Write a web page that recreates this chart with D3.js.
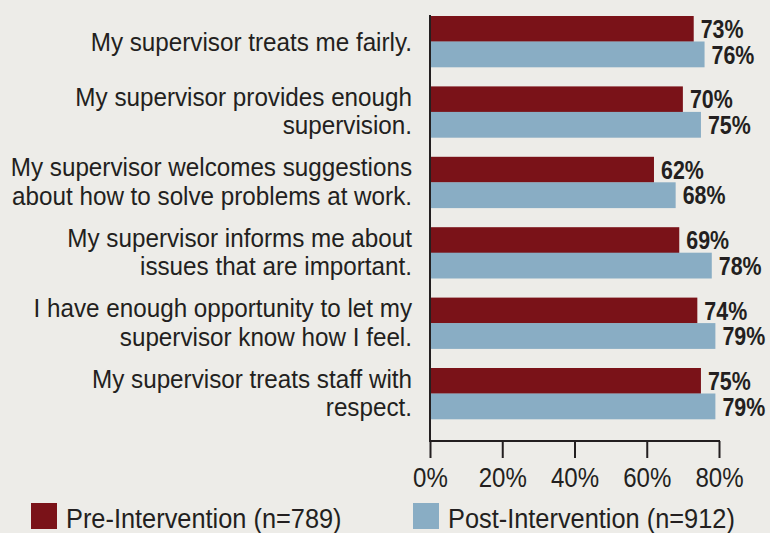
<!DOCTYPE html>
<html><head><meta charset="utf-8">
<script src="https://cdn.jsdelivr.net/npm/d3@7"></script>
<style>
html,body{margin:0;padding:0;background:#edece8;}
svg{display:block;}
text{font-family:"Liberation Sans",Arial,sans-serif;fill:#231f20;}
</style></head>
<body>
<svg id="chart" width="770" height="533"></svg>
<script>
const categories = [
  ["My supervisor treats me fairly."],
  ["My supervisor provides enough", "supervision."],
  ["My supervisor welcomes suggestions", "about how to solve problems at work."],
  ["My supervisor informs me about", "issues that are important."],
  ["I have enough opportunity to let my", "supervisor know how I feel."],
  ["My supervisor treats staff with", "respect."]
];
const seriesNames = ["Pre-Intervention (n=789)", "Post-Intervention (n=912)"];
const preValues = [73, 70, 62, 69, 74, 75];
const postValues = [76, 75, 68, 78, 79, 79];
const tickValues = [0, 20, 40, 60, 80];
const colors = ["#7a1218", "#89adc4"];

const svg = d3.select("#chart");
const W = 770, H = 533;
svg.append("rect").attr("width", W).attr("height", H).attr("fill", "#edece8");

const x = d3.scaleLinear().domain([0, 80]).range([430, 719]);
const ids = categories.map((c, i) => i);
const y = d3.scaleBand().domain(ids).range([16, 419]).paddingInner(0.2756).paddingOuter(0);
const ySub = d3.scaleBand().domain([0, 1]).range([0, y.bandwidth()]).padding(0);
const axisY = 441;

const data = ids.map(i => ({i, vals: [preValues[i], postValues[i]]}));

const g = svg.append("g");
const groups = g.selectAll("g.grp").data(data).join("g")
  .attr("class", "grp")
  .attr("transform", d => `translate(0,${y(d.i)})`);

groups.selectAll("rect").data(d => d.vals.map((v, s) => ({v, s}))).join("rect")
  .attr("x", x(0))
  .attr("y", d => ySub(d.s))
  .attr("width", d => x(d.v) - x(0))
  .attr("height", ySub.bandwidth() + 0.3)
  .attr("fill", d => colors[d.s]);

const kVal = 0.84, kCat = 0.915, kTick = 0.86, kLeg = 0.89;

groups.selectAll("text.val").data(d => d.vals.map((v, s) => ({v, s}))).join("text")
  .attr("class", "val")
  .attr("transform", d => `translate(${x(d.v) + 7},${ySub(d.s) + ySub.bandwidth() / 2 + 9.3}) scale(${kVal},1)`)
  .style("font-size", "25.5px")
  .style("font-weight", "bold")
  .text(d => d.v + "%");

// category labels
groups.each(function(d) {
  const lines = categories[d.i];
  const c = y.bandwidth() / 2;
  const ys = lines.length === 1 ? [c + 9.3] : lines.map((l, k) => c - 6 + k * 28.5);
  lines.forEach((l, k) => {
    d3.select(this).append("text")
      .attr("text-anchor", "end")
      .attr("transform", `translate(412,${ys[k]}) scale(${kCat},1)`)
      .style("font-size", "26.5px")
      .text(l);
  });
});

// vertical axis line
svg.append("line")
  .attr("x1", x(0)).attr("x2", x(0))
  .attr("y1", 15).attr("y2", axisY)
  .attr("stroke", "#231f20").attr("stroke-width", 2);

// x axis
const xAxis = d3.axisBottom(x).tickValues(tickValues).tickFormat(d => d + "%")
  .tickSize(17).tickSizeOuter(0).tickPadding(9);
const ax = svg.append("g").attr("transform", `translate(0,${axisY})`).call(xAxis);
ax.select(".domain").attr("stroke", "#231f20").attr("stroke-width", 2).attr("d", `M${x(0)-1},0H${x(80)+1}`);
ax.selectAll(".tick line").attr("stroke", "#231f20").attr("stroke-width", 2);
ax.selectAll(".tick text").style("font-size", "28px").attr("fill", "#231f20")
  .attr("transform", `scale(${kTick},1)`)
  .style("font-family", '"Liberation Sans",Arial,sans-serif');

// legend
const legendX = [31, 413];
const leg = svg.selectAll("g.leg").data(seriesNames).join("g")
  .attr("class", "leg")
  .attr("transform", (d, i) => `translate(${legendX[i]},503)`);
leg.append("rect").attr("width", 26).attr("height", 26).attr("fill", (d, i) => colors[i]);
leg.append("text").attr("transform", `translate(35,24.5) scale(${kLeg},1)`).style("font-size", "28.5px").text(d => d);
</script>
</body></html>
